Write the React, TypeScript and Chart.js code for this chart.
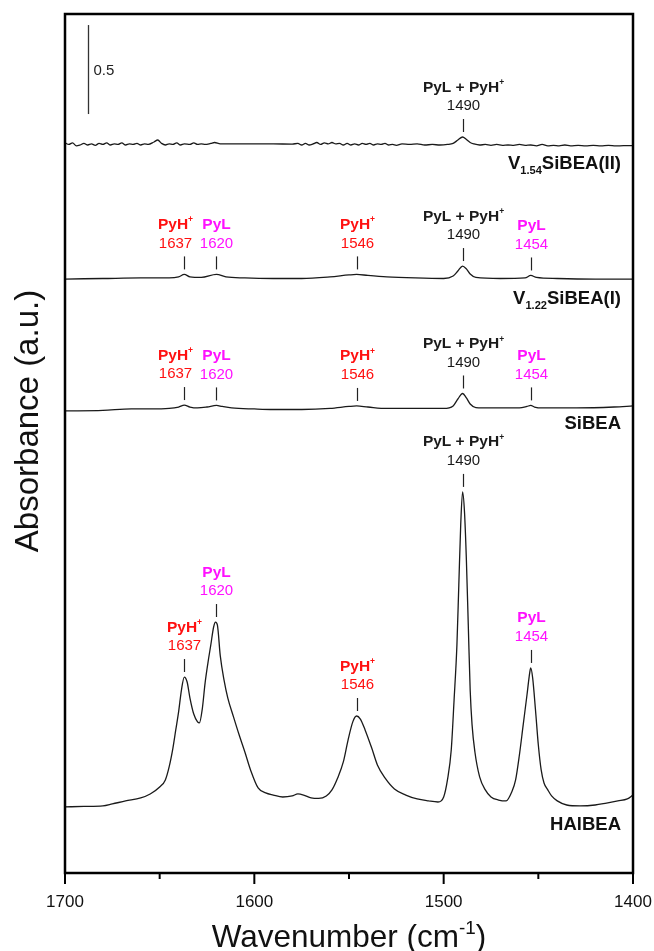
import React, { useEffect, useRef } from 'react';
import { Chart, registerables } from 'chart.js';

Chart.register(...registerables);

const FONT = '"Liberation Sans", Arial, Helvetica, sans-serif';

// ---------- Data (wavenumber in cm-1, absorbance relative to each spectrum's baseline) ----------
const V154_WN = [1700, 1698, 1696, 1694, 1692, 1690, 1688, 1686, 1684, 1682, 1680, 1678, 1676, 1674, 1672, 1670, 1668, 1666, 1664, 1662, 1660, 1658, 1656, 1653, 1651, 1649, 1647, 1645, 1643, 1641, 1639, 1637, 1634, 1632, 1630, 1628, 1626, 1623, 1621, 1618, 1614, 1600, 1590, 1580, 1577, 1575, 1573, 1571, 1569, 1567, 1565, 1563, 1561, 1559, 1557, 1555, 1553, 1551, 1549, 1547, 1545, 1543, 1541, 1539, 1537, 1535, 1533, 1531, 1529, 1527, 1525, 1522, 1518, 1514, 1510, 1506, 1502, 1498, 1495, 1492.5, 1490, 1488, 1486, 1484, 1481, 1478, 1475, 1472, 1469, 1466, 1463, 1460, 1457, 1454, 1451, 1448, 1445, 1442, 1439, 1436, 1433, 1429, 1425, 1421, 1417, 1413, 1409, 1405, 1400];
const V154_ABS = [0.006, -0.003, 0.006, -0.011, -0.006, 0.003, -0.006, 0.0, -0.008, 0.003, -0.003, 0.006, -0.006, 0.0, -0.003, 0.006, -0.006, 0.0, -0.003, 0.003, -0.006, 0.0, -0.003, 0.011, 0.022, 0.003, -0.006, 0.0, -0.003, 0.006, -0.006, 0.0, -0.003, 0.006, -0.003, 0.0, -0.003, 0.003, 0.008, 0.0, 0.0, 0.0, 0.0, -0.001, 0.003, -0.006, 0.003, -0.006, 0.0, 0.008, -0.003, 0.006, 0.0, 0.008, 0.0, 0.003, -0.006, 0.003, -0.006, 0.0, -0.006, 0.003, -0.003, 0.003, -0.006, 0.0, -0.003, 0.003, -0.006, -0.003, -0.008, 0.0, -0.003, 0.0, -0.006, -0.003, -0.006, -0.003, 0.003, 0.022, 0.039, 0.025, 0.008, 0.0, -0.006, -0.003, -0.008, -0.003, -0.008, -0.006, -0.008, -0.003, -0.008, -0.006, -0.011, -0.003, -0.011, -0.008, -0.011, -0.006, -0.011, -0.008, -0.011, -0.008, -0.011, -0.008, -0.011, -0.010, -0.010];

const V122_WN = [1700, 1680, 1660, 1645, 1640, 1637, 1634, 1628, 1620, 1615, 1605, 1590, 1575, 1560, 1550, 1546, 1540, 1530, 1515, 1500, 1495, 1492.5, 1490, 1488, 1486, 1483, 1470, 1457, 1454, 1451, 1440, 1420, 1400];
const V122_ABS = [-0.006, -0.003, 0.0, 0.0, 0.006, 0.020, 0.006, 0.003, 0.020, 0.006, 0.0, -0.003, -0.003, 0.006, 0.017, 0.020, 0.014, 0.006, 0.0, -0.003, 0.011, 0.039, 0.067, 0.051, 0.022, 0.003, -0.003, 0.0, 0.014, 0.003, -0.003, -0.006, -0.006];

const SIBEA_WN = [1700, 1680, 1665, 1655, 1645, 1640, 1637, 1634, 1630, 1625, 1620, 1617, 1612, 1600, 1590, 1575, 1560, 1550, 1546, 1540, 1530, 1515, 1500, 1495, 1492.5, 1490, 1488, 1486, 1483, 1475, 1460, 1456, 1454, 1452, 1448, 1430, 1410, 1400];
const SIBEA_ABS = [-0.011, -0.008, 0.0, 0.0, 0.003, 0.011, 0.022, 0.011, 0.006, 0.011, 0.020, 0.014, 0.006, 0.0, -0.003, -0.003, 0.003, 0.014, 0.017, 0.011, 0.003, 0.003, 0.003, 0.017, 0.056, 0.087, 0.062, 0.028, 0.008, 0.006, 0.006, 0.014, 0.020, 0.011, 0.006, 0.006, 0.011, 0.017];

const HALBEA_WN = [1700, 1690, 1680, 1675, 1668, 1660, 1655, 1650, 1647, 1645, 1643, 1641.5, 1640, 1638.5, 1637, 1635.5, 1634, 1632, 1630, 1629, 1627.5, 1626, 1624.5, 1623, 1621.5, 1620.5, 1619.5, 1618, 1616, 1614, 1611, 1608, 1605, 1602, 1598, 1594, 1590, 1585, 1580, 1577, 1574, 1570, 1566, 1562, 1559, 1556, 1553, 1550.5, 1548, 1546, 1544, 1541.5, 1538, 1535, 1531, 1526, 1520, 1514, 1508, 1503, 1500, 1498, 1496, 1494.5, 1493, 1492, 1491, 1490, 1489, 1488, 1487, 1486, 1485, 1483.5, 1481, 1478, 1475, 1471, 1467, 1464, 1462, 1460, 1458, 1456, 1454.5, 1454, 1453, 1451.5, 1450, 1448.5, 1447, 1445, 1443, 1440, 1435, 1428, 1420, 1414, 1408, 1403, 1400];
const HALBEA_ABS = [0.0, 0.003, 0.006, 0.017, 0.034, 0.051, 0.073, 0.112, 0.152, 0.225, 0.331, 0.433, 0.534, 0.657, 0.730, 0.702, 0.612, 0.522, 0.478, 0.472, 0.55, 0.697, 0.81, 0.91, 1.011, 1.039, 1.022, 0.85, 0.713, 0.612, 0.506, 0.404, 0.309, 0.208, 0.107, 0.079, 0.067, 0.056, 0.062, 0.073, 0.067, 0.051, 0.048, 0.062, 0.096, 0.163, 0.253, 0.376, 0.478, 0.511, 0.494, 0.433, 0.331, 0.236, 0.163, 0.101, 0.067, 0.045, 0.034, 0.028, 0.056, 0.152, 0.320, 0.601, 0.910, 1.247, 1.584, 1.770, 1.657, 1.388, 1.022, 0.657, 0.461, 0.309, 0.169, 0.096, 0.056, 0.039, 0.034, 0.085, 0.152, 0.292, 0.461, 0.629, 0.758, 0.781, 0.725, 0.545, 0.348, 0.208, 0.135, 0.096, 0.062, 0.034, 0.011, 0.006, 0.011, 0.022, 0.034, 0.045, 0.067];

// Stacking offsets (a.u.) of each spectrum, top to bottom
const SERIES_OFFSETS = [4.096, 3.343, 2.607, 0.371];
const SERIES_WN = [V154_WN, V122_WN, SIBEA_WN, HALBEA_WN];
const SERIES_ABS = [V154_ABS, V122_ABS, SIBEA_ABS, HALBEA_ABS];
// Sample names: [main, subscript, rest]
const SERIES_NAMES = [
  ['V', '1.54', 'SiBEA(II)'],
  ['V', '1.22', 'SiBEA(I)'],
  ['SiBEA', '', ''],
  ['HAlBEA', '', ''],
];

// Peak assignments
const PEAK_WN = [1637, 1620, 1546, 1490, 1454];
const PEAK_NAMES = ['PyH^+', 'PyL', 'PyH^+', 'PyL + PyH^+', 'PyL'];
const PEAK_COLORS = ['#ff1010', '#ff10ff', '#ff1010', '#1a1a1a', '#ff10ff'];
const SERIES_PEAKS = [[3], [0, 1, 2, 3, 4], [0, 1, 2, 3, 4], [0, 1, 2, 3, 4]];

// X axis ticks
const X_MAJOR_TICKS = [1700, 1600, 1500, 1400];
const X_MINOR_TICKS = [1650, 1550, 1450];

// Scale bar
const SCALE_BAR_WN = 1688;
const SCALE_BAR_TOP = 4.764;
const SCALE_BAR_LEN = 0.5;

const Y_MAX = 4.826;

type Part = { t: string; mode?: 'sub' | 'sup' };

function parseSup(s: string): Part[] {
  const parts: Part[] = [];
  const re = /\^(.)/g;
  let last = 0;
  let m: RegExpExecArray | null;
  while ((m = re.exec(s))) {
    if (m.index > last) parts.push({ t: s.slice(last, m.index) });
    parts.push({ t: m[1], mode: 'sup' });
    last = m.index + 2;
  }
  if (last < s.length) parts.push({ t: s.slice(last) });
  return parts;
}

// Draw rich text; y is the vertical centre of capital letters
function drawRich(
  ctx: CanvasRenderingContext2D,
  parts: Part[],
  x: number,
  y: number,
  size: number,
  weight: string,
  color: string,
  align: 'left' | 'center' | 'right',
  supScale = 0.6,
) {
  const fontFor = (p: Part) => `${weight} ${p.mode ? size * supScale : size}px ${FONT}`;
  let total = 0;
  const widths = parts.map((p) => {
    ctx.font = fontFor(p);
    const w = ctx.measureText(p.t).width;
    total += w;
    return w;
  });
  let cx = align === 'left' ? x : align === 'center' ? x - total / 2 : x - total;
  const base = y + 0.358 * size;
  ctx.fillStyle = color;
  ctx.textAlign = 'left';
  ctx.textBaseline = 'alphabetic';
  parts.forEach((p, i) => {
    ctx.font = fontFor(p);
    let by = base;
    if (p.mode === 'sup') by = base - 0.42 * size;
    if (p.mode === 'sub') by = base + 0.3 * size;
    ctx.fillText(p.t, cx, by);
    cx += widths[i];
  });
}

const decorPlugin = {
  id: 'decor',
  afterDatasetsDraw(chart: any) {
    const { ctx, chartArea, scales } = chart;
    const xs = scales.x;
    const ys = scales.y;
    ctx.save();

    // Peak markers and labels
    const labelShift: Record<string, number> = { '1-0': -9, '2-0': -9 };
    SERIES_PEAKS.forEach((peaks, s) => {
      const wn = SERIES_WN[s];
      const ab = SERIES_ABS[s];
      peaks.forEach((p) => {
        const w = PEAK_WN[p];
        let best = -Infinity;
        wn.forEach((x, i) => {
          if (Math.abs(x - w) <= 1.5) best = Math.max(best, ab[i]);
        });
        const px = Math.round(xs.getPixelForValue(w)) + 0.5;
        const py = ys.getPixelForValue(best + SERIES_OFFSETS[s]);
        ctx.strokeStyle = '#222';
        ctx.lineWidth = 1.2;
        ctx.beginPath();
        ctx.moveTo(px, py - 5);
        ctx.lineTo(px, py - 18);
        ctx.stroke();
        const lx = px + (labelShift[`${s}-${p}`] || 0);
        drawRich(ctx, [{ t: String(w) }], lx, py - 32, 15, 'normal', PEAK_COLORS[p], 'center');
        drawRich(ctx, parseSup(PEAK_NAMES[p]), lx, py - 51, 15.5, 'bold', PEAK_COLORS[p], 'center', 0.55);
      });
    });

    // Sample names
    const nameDy = [18, 19, 13, 16];
    SERIES_NAMES.forEach((n, s) => {
      const y = ys.getPixelForValue(SERIES_OFFSETS[s]) + nameDy[s];
      const parts: Part[] = [{ t: n[0] }];
      if (n[1]) parts.push({ t: n[1], mode: 'sub' });
      if (n[2]) parts.push({ t: n[2] });
      drawRich(ctx, parts, chartArea.right - 12, y, 18.5, 'bold', '#111', 'right');
    });

    // Scale bar
    const sx = Math.round(xs.getPixelForValue(SCALE_BAR_WN)) + 0.5;
    const sTop = ys.getPixelForValue(SCALE_BAR_TOP);
    const sBot = ys.getPixelForValue(SCALE_BAR_TOP - SCALE_BAR_LEN);
    ctx.strokeStyle = '#333';
    ctx.lineWidth = 1.3;
    ctx.beginPath();
    ctx.moveTo(sx, sTop);
    ctx.lineTo(sx, sBot);
    ctx.stroke();
    drawRich(ctx, [{ t: String(SCALE_BAR_LEN) }], sx + 5, (sTop + sBot) / 2, 15, 'normal', '#222', 'left');

    // Frame
    ctx.strokeStyle = '#000';
    ctx.lineWidth = 2.5;
    ctx.strokeRect(chartArea.left, chartArea.top, chartArea.right - chartArea.left, chartArea.bottom - chartArea.top);

    // X ticks (outside)
    ctx.lineWidth = 2;
    X_MAJOR_TICKS.forEach((t) => {
      const x = xs.getPixelForValue(t);
      ctx.beginPath();
      ctx.moveTo(x, chartArea.bottom);
      ctx.lineTo(x, chartArea.bottom + 11);
      ctx.stroke();
    });
    X_MINOR_TICKS.forEach((t) => {
      const x = xs.getPixelForValue(t);
      ctx.beginPath();
      ctx.moveTo(x, chartArea.bottom);
      ctx.lineTo(x, chartArea.bottom + 6);
      ctx.stroke();
    });

    // Axis titles
    const cx = (chartArea.left + chartArea.right) / 2;
    drawRich(
      ctx,
      [{ t: 'Wavenumber (cm' }, { t: '-1', mode: 'sup' }, { t: ')' }],
      cx,
      936,
      31.5,
      'normal',
      '#111',
      'center',
    );
    ctx.save();
    ctx.translate(26, 421);
    ctx.rotate(-Math.PI / 2);
    drawRich(ctx, [{ t: 'Absorbance (a.u.)' }], 0, 0, 33, 'normal', '#111', 'center');
    ctx.restore();

    ctx.restore();
  },
};

export default function App() {
  const ref = useRef<HTMLCanvasElement | null>(null);

  useEffect(() => {
    if (!ref.current) return;
    const datasets = SERIES_WN.map((wn, s) => ({
      label: SERIES_NAMES[s].join(''),
      data: wn.map((x, i) => ({ x, y: SERIES_ABS[s][i] + SERIES_OFFSETS[s] })),
      borderColor: '#1a1a1a',
      borderWidth: 1.3,
      pointRadius: 0,
      fill: false,
      cubicInterpolationMode: 'monotone' as const,
    }));
    const chart = new Chart(ref.current, {
      type: 'line',
      data: { datasets },
      options: {
        animation: false,
        responsive: false,
        maintainAspectRatio: false,
        devicePixelRatio: 1,
        layout: { padding: { left: 65, right: 21, top: 14, bottom: 0 } },
        plugins: { legend: { display: false }, tooltip: { enabled: false } },
        scales: {
          x: {
            type: 'linear',
            min: 1400,
            max: 1700,
            reverse: true,
            border: { display: false },
            grid: { display: true, drawOnChartArea: false, drawTicks: false },
            ticks: {
              stepSize: 50,
              padding: 19,
              color: '#111',
              font: { family: FONT, size: 17 },
              callback: (v: any) => (Number(v) % 100 === 0 ? String(v) : ''),
              maxRotation: 0,
              autoSkip: false,
            },
            afterFit: (scale: any) => {
              scale.height = 78;
              scale.paddingLeft = 0;
              scale.paddingRight = 0;
            },
          },
          y: {
            display: false,
            min: 0,
            max: Y_MAX,
          },
        },
      },
      plugins: [decorPlugin],
    });
    return () => chart.destroy();
  }, []);

  return (
    <div style={{ position: 'absolute', left: 0, top: 0, width: 654, height: 951, background: '#fff' }}>
      <canvas ref={ref} width={654} height={951} style={{ width: 654, height: 951, display: 'block' }} />
    </div>
  );
}
